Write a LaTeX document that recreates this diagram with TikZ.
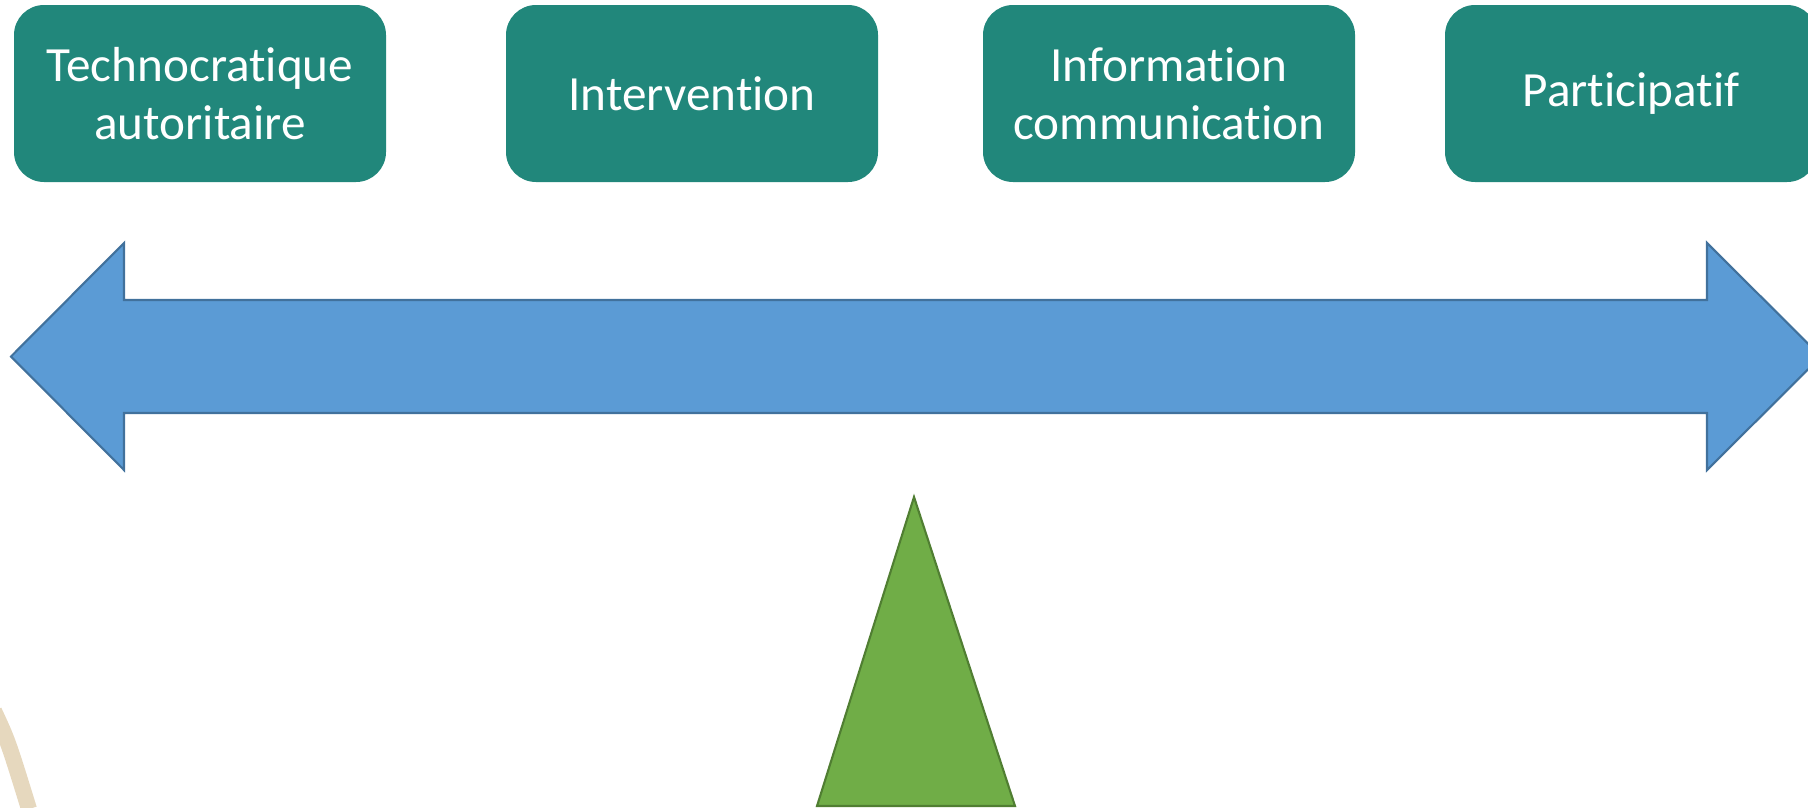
\documentclass[tikz,border=0pt]{standalone}
\usepackage{fontspec}
\setmainfont{Carlito}[Ligatures=NoCommon]
\definecolor{boxteal}{RGB}{33,135,123}
\definecolor{arrowblue}{RGB}{91,155,213}
\definecolor{arrowedge}{RGB}{65,113,156}
\definecolor{pivotgreen}{RGB}{112,173,71}
\definecolor{pivotedge}{RGB}{80,126,50}
\definecolor{sand}{RGB}{230,216,190}

\begin{document}
\begin{tikzpicture}[line width=0.6pt, font=\fontsize{14}{16.5}\selectfont,
  stance/.style={rounded corners=0.3cm, fill=boxteal, text=white, align=center,
                 minimum width=3.72cm, minimum height=1.77cm, inner sep=0pt}]
  \clip (0,0) rectangle (18.08,8.07);

  % approaches
  \node[stance] (techno) at (2.00,7.135)  {Technocratique\\autoritaire};
  \node[stance] (interv) at (6.92,7.135)  {Intervention};
  \node[stance] (info)   at (11.69,7.135) {Information\\communication};
  \node[stance] (partic) at (16.31,7.135) {Participatif};

  % two-way scale
  \draw[fill=arrowblue, draw=arrowedge]
        (0.11,4.505) -- (1.24,5.64) -- (1.24,5.07) -- (17.07,5.07) -- (17.07,5.64)
        -- (18.21,4.505) -- (17.07,3.37) -- (17.07,3.94) -- (1.24,3.94) -- (1.24,3.37)
        -- cycle;

  % pivot
  \draw[fill=pivotgreen, draw=pivotedge] (9.14,3.10) -- (10.15,0.01) -- (8.17,0.01) -- cycle;

  % edge of the ring in the corner
  \draw[sand, line width=0.16cm] (-0.06,0.96) .. controls (0.08,0.66) .. (0.29,-0.02);
\end{tikzpicture}
\end{document}
